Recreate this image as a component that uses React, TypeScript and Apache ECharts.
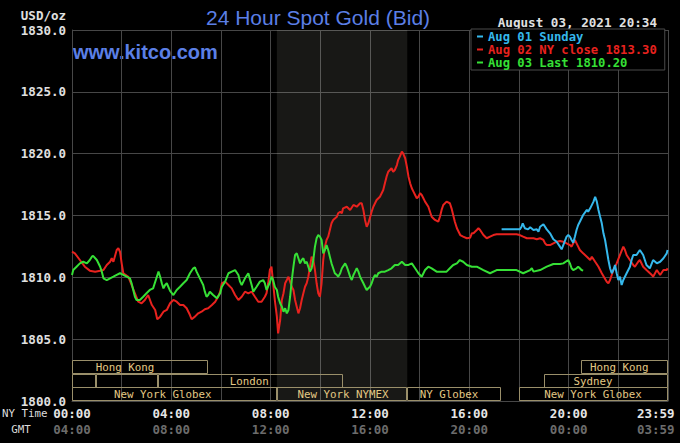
import React, { useEffect, useRef } from "react";
import * as echarts from "echarts";

// Aug 02 (red) — [minute after 00:00 NY, price]
const AUG02_RED: [number, number][] = [
  [0, 1812.07], [7, 1811.94], [19, 1811.4], [31, 1810.86], [43, 1810.54], [56, 1810.46], [68, 1810.54], [76, 1810.59],
  [84, 1811.0], [92, 1811.26], [96, 1811.54], [100, 1811.26], [108, 1812.21], [112, 1812.35], [116, 1812.07], [120, 1811.13],
  [124, 1810.33], [136, 1810.05], [144, 1809.38], [152, 1808.71], [160, 1808.03], [168, 1807.9], [176, 1808.17], [184, 1808.57],
  [193, 1807.76], [201, 1807.36], [206, 1806.61], [213, 1806.82], [221, 1807.22], [229, 1807.36], [237, 1807.9], [245, 1808.17],
  [253, 1808.03], [261, 1807.76], [269, 1807.76], [277, 1807.5], [285, 1806.95], [289, 1806.61], [297, 1806.82], [305, 1807.09],
  [313, 1807.22], [321, 1807.42], [329, 1807.5], [338, 1807.76], [346, 1808.03], [353, 1808.43], [358, 1808.84], [362, 1809.52],
  [370, 1809.65], [378, 1809.38], [386, 1809.11], [394, 1808.57], [402, 1808.17], [410, 1808.43], [418, 1808.84], [426, 1808.71],
  [434, 1808.84], [442, 1808.43], [450, 1808.03], [458, 1808.03], [466, 1808.43], [470, 1808.71], [474, 1809.52], [478, 1810.59],
  [482, 1810.86], [486, 1809.52], [490, 1808.17], [495, 1806.82], [498, 1805.47], [503, 1806.55], [507, 1808.17], [511, 1808.71],
  [515, 1809.52], [519, 1809.78], [523, 1810.05], [527, 1809.65], [531, 1809.24], [535, 1808.98], [539, 1808.17], [543, 1807.63],
  [547, 1807.09], [551, 1807.5], [555, 1808.17], [559, 1808.71], [563, 1809.24], [567, 1809.52], [571, 1810.05], [575, 1810.86],
  [579, 1811.67], [583, 1811.4], [587, 1810.59], [591, 1809.52], [595, 1808.71], [599, 1808.43], [603, 1809.52], [607, 1811.4],
  [611, 1812.48], [615, 1813.02], [619, 1813.29], [623, 1813.83], [627, 1814.37], [631, 1814.64], [640, 1814.9], [643, 1815.18],
  [648, 1815.31], [652, 1815.18], [655, 1815.58], [664, 1815.71], [672, 1815.45], [680, 1815.85], [688, 1815.71], [696, 1815.99],
  [700, 1815.99], [704, 1815.45], [708, 1814.64], [712, 1814.09], [716, 1814.37], [720, 1814.84], [724, 1815.31], [728, 1815.71],
  [736, 1816.25], [744, 1816.52], [752, 1817.06], [756, 1817.6], [760, 1818.14], [764, 1818.54], [772, 1818.82], [776, 1818.54],
  [780, 1818.68], [785, 1819.08], [788, 1819.49], [792, 1819.76], [797, 1820.16], [800, 1820.03], [805, 1819.63], [809, 1818.95],
  [813, 1818.14], [817, 1817.6], [821, 1817.2], [825, 1816.93], [829, 1816.66], [833, 1816.39], [837, 1816.52], [841, 1816.8],
  [845, 1816.66], [849, 1816.39], [853, 1816.12], [861, 1815.71], [869, 1814.9], [877, 1814.64], [885, 1814.5], [889, 1814.9],
  [893, 1815.45], [897, 1815.85], [905, 1816.12], [913, 1815.99], [917, 1815.58], [921, 1815.04], [925, 1814.5], [930, 1813.97],
  [938, 1813.42], [945, 1813.29], [954, 1813.16], [962, 1813.2], [966, 1813.56], [970, 1813.56], [978, 1813.83], [982, 1813.97],
  [986, 1813.83], [994, 1813.42], [1002, 1813.16], [1010, 1813.29], [1018, 1813.42], [1026, 1813.48], [1074, 1813.48], [1082, 1813.42],
  [1090, 1813.29], [1099, 1813.16], [1115, 1813.16], [1123, 1813.08], [1131, 1813.16], [1139, 1813.02], [1143, 1812.75], [1147, 1812.61],
  [1155, 1812.61], [1163, 1812.75], [1171, 1812.88], [1179, 1812.94], [1187, 1812.88], [1195, 1812.75], [1203, 1812.61], [1207, 1812.48],
  [1215, 1813.02], [1223, 1812.48], [1227, 1812.21], [1235, 1811.94], [1244, 1811.67], [1252, 1811.4], [1256, 1811.67], [1264, 1811.26],
  [1272, 1810.86], [1280, 1810.33], [1292, 1809.65], [1296, 1809.52], [1300, 1809.78], [1308, 1810.59], [1316, 1811.13], [1324, 1811.81],
  [1332, 1812.48], [1336, 1812.21], [1340, 1811.81], [1348, 1811.4], [1356, 1811.0], [1360, 1810.86], [1368, 1811.26], [1372, 1811.4],
  [1380, 1810.86], [1388, 1810.59], [1401, 1810.19], [1404, 1810.05], [1413, 1810.59], [1421, 1810.19], [1429, 1810.59], [1437, 1810.59],
  [1439, 1810.73],
];

// Aug 03 (green)
const AUG03_GREEN: [number, number][] = [
  [0, 1810.19], [3, 1810.59], [11, 1810.86], [19, 1811.13], [27, 1811.26], [36, 1811.13], [43, 1811.4], [48, 1811.67],
  [51, 1811.73], [60, 1811.4], [68, 1810.86], [72, 1810.46], [76, 1809.92], [84, 1809.78], [92, 1809.92], [100, 1810.05],
  [108, 1810.19], [116, 1810.33], [124, 1810.19], [132, 1810.05], [140, 1809.92], [144, 1809.52], [148, 1808.98], [152, 1808.43],
  [156, 1808.17], [164, 1808.17], [172, 1808.43], [180, 1808.71], [188, 1808.98], [196, 1809.11], [205, 1810.05], [209, 1810.46],
  [213, 1810.05], [217, 1809.52], [221, 1809.11], [225, 1809.38], [229, 1809.52], [237, 1808.91], [245, 1808.57], [253, 1808.98],
  [261, 1809.24], [269, 1809.52], [277, 1809.78], [285, 1810.33], [293, 1810.73], [297, 1810.81], [301, 1810.46], [309, 1809.92],
  [317, 1809.38], [321, 1808.84], [325, 1808.43], [329, 1808.57], [333, 1808.84], [341, 1808.57], [350, 1808.3], [358, 1808.71],
  [362, 1809.24], [370, 1809.65], [378, 1810.33], [386, 1810.46], [394, 1810.59], [402, 1810.19], [406, 1809.65], [410, 1809.38],
  [418, 1809.92], [426, 1810.33], [434, 1809.38], [438, 1808.84], [446, 1809.24], [454, 1809.65], [462, 1809.78], [466, 1809.52],
  [470, 1808.98], [478, 1809.58], [482, 1810.05], [486, 1809.78], [490, 1809.24], [495, 1808.98], [498, 1808.43], [503, 1807.9],
  [507, 1807.63], [511, 1807.22], [515, 1807.5], [519, 1807.09], [523, 1807.36], [527, 1808.43], [531, 1809.78], [535, 1810.86],
  [539, 1811.81], [543, 1811.94], [547, 1811.54], [551, 1811.13], [555, 1811.4], [559, 1811.54], [563, 1811.13], [567, 1811.26],
  [571, 1810.86], [575, 1810.46], [579, 1810.73], [583, 1811.4], [587, 1812.48], [591, 1813.16], [595, 1813.42], [599, 1813.29],
  [603, 1813.02], [607, 1811.94], [611, 1812.21], [615, 1812.61], [619, 1812.21], [623, 1811.67], [627, 1811.13], [631, 1810.73],
  [635, 1810.33], [640, 1810.19], [643, 1810.05], [648, 1810.33], [652, 1810.73], [660, 1811.13], [664, 1810.86], [668, 1810.46],
  [672, 1810.05], [676, 1809.78], [680, 1810.19], [684, 1810.46], [688, 1810.73], [692, 1810.46], [696, 1810.05], [700, 1809.78],
  [704, 1809.52], [708, 1809.24], [712, 1808.98], [716, 1809.11], [720, 1809.24], [724, 1809.52], [728, 1809.92], [732, 1810.19],
  [736, 1810.05], [740, 1810.33], [748, 1810.46], [756, 1810.46], [764, 1810.59], [772, 1810.73], [780, 1811.0], [788, 1811.0],
  [797, 1811.26], [805, 1811.0], [813, 1811.0], [821, 1811.13], [829, 1810.73], [837, 1810.33], [845, 1810.05], [853, 1810.59],
  [861, 1810.86], [869, 1810.73], [881, 1810.46], [897, 1810.46], [905, 1810.46], [913, 1810.73], [921, 1811.0], [930, 1811.13],
  [937, 1811.4], [945, 1811.26], [954, 1811.0], [966, 1810.86], [978, 1810.86], [994, 1810.59], [1010, 1810.33], [1026, 1810.59],
  [1042, 1810.59], [1074, 1810.59], [1090, 1810.33], [1107, 1810.59], [1111, 1810.73], [1115, 1810.46], [1131, 1810.59], [1147, 1810.86],
  [1163, 1811.08], [1179, 1811.08], [1187, 1811.13], [1199, 1811.4], [1203, 1811.13], [1207, 1810.73], [1211, 1810.59], [1219, 1810.73],
  [1223, 1810.86], [1227, 1810.73], [1231, 1810.59], [1235, 1810.54],
];

// Aug 01 Sunday (cyan)
const AUG01_BLUE: [number, number][] = [
  [1038, 1813.88], [1082, 1813.88], [1086, 1814.09], [1089, 1814.37], [1094, 1813.97], [1102, 1813.88], [1107, 1814.05], [1115, 1813.83],
  [1123, 1813.88], [1127, 1813.69], [1131, 1814.09], [1139, 1814.29], [1147, 1813.88], [1155, 1813.56], [1163, 1813.08], [1171, 1812.88],
  [1179, 1812.48], [1183, 1812.27], [1187, 1812.61], [1195, 1813.29], [1199, 1813.42], [1203, 1813.29], [1207, 1813.02], [1211, 1812.8],
  [1215, 1813.29], [1219, 1813.83], [1223, 1814.23], [1227, 1814.5], [1235, 1815.04], [1244, 1815.45], [1247, 1815.31], [1252, 1815.58],
  [1260, 1816.12], [1264, 1816.52], [1268, 1816.12], [1272, 1815.45], [1276, 1814.9], [1280, 1814.37], [1284, 1813.56], [1288, 1813.02],
  [1292, 1812.21], [1296, 1811.4], [1300, 1810.73], [1304, 1810.33], [1308, 1810.59], [1312, 1811.0], [1316, 1810.33], [1320, 1809.78],
  [1324, 1810.05], [1328, 1809.38], [1332, 1809.78], [1340, 1810.33], [1348, 1810.86], [1352, 1811.4], [1356, 1811.81], [1364, 1811.81],
  [1372, 1812.21], [1380, 1811.81], [1388, 1811.0], [1396, 1810.73], [1404, 1811.4], [1413, 1811.13], [1421, 1811.26], [1429, 1811.54],
  [1437, 1811.94], [1439, 1812.21],
];

const SERIES_NAMES = ["Aug 01 Sunday", "Aug 02 NY close 1813.30", "Aug 03 Last 1810.20"];

const X_TICKS_NY = ["00:00", "04:00", "08:00", "12:00", "16:00", "20:00", "23:59"];
const X_TICKS_GMT = ["04:00", "08:00", "12:00", "16:00", "20:00", "00:00", "03:59"];

// Market sessions (minutes, NY time); row 0 = bottom
const SESSION_NAMES = ["New York Globex", "New York NYMEX", "NY Globex", "New York Globex", "", "", "London", "Sydney", "Hong Kong", "Hong Kong"];
const SESSION_START = [0, 495, 810, 1080, 0, 57, 207, 1140, 0, 1230];
const SESSION_END = [495, 810, 1038, 1440, 57, 207, 655, 1440, 329, 1440];
const SESSION_ROW = [0, 0, 0, 0, 1, 1, 1, 1, 2, 2];
const SESSION_LABEL_AT = [219, 655, 911, 1259, 0, 0, 428, 1259, 128, 1322];

const NYMEX_SHADE = [495, 810];

const RED = "#e8221e";
const GREEN = "#36e036";
const BLUE = "#35b8ec";
const MONO = '"DejaVu Sans Mono", monospace';
const SANS = '"Liberation Sans", Arial, sans-serif';

export default function App() {
  const ref = useRef<HTMLDivElement>(null);
  useEffect(() => {
    document.body.style.margin = "0";
    document.body.style.background = "#000";
    const chart = echarts.init(ref.current!, null, { renderer: "svg" });
    const gridColor = "#474747";
    const rowH = 13.6;
    const option: any = {
      animation: false,
      backgroundColor: "#000",
      grid: { left: 72, top: 30, width: 596, height: 371, show: false, containLabel: false, outerBoundsMode: "none" },
      xAxis: {
        type: "value",
        min: 0,
        max: 1440,
        interval: 120,
        axisLine: { show: true, lineStyle: { color: gridColor } },
        axisTick: { show: false },
        splitLine: { show: true, lineStyle: { color: gridColor, width: 1 } },
        axisLabel: {
          margin: 4,
          showMaxLabel: true,
          showMinLabel: true,
          formatter: (v: number) => {
            if (v % 240 !== 0) return "";
            const i = v / 240;
            if (i === 6) return `{c|${X_TICKS_NY[i]}}\n{d|${X_TICKS_GMT[i]}}`;
            return `{a|${X_TICKS_NY[i]}}\n{b|${X_TICKS_GMT[i]}}`;
          },
          rich: {
            a: { fontFamily: MONO, fontSize: 12.5, fontWeight: "bold", color: "#e6e6e6", lineHeight: 16 },
            b: { fontFamily: MONO, fontSize: 12.5, fontWeight: "bold", color: "#6c6c6c", lineHeight: 16 },
            c: { fontFamily: MONO, fontSize: 12.5, fontWeight: "bold", color: "#e6e6e6", lineHeight: 16, width: 62, align: "left" },
            d: { fontFamily: MONO, fontSize: 12.5, fontWeight: "bold", color: "#6c6c6c", lineHeight: 16, width: 62, align: "left" },
          },
        },
      },
      yAxis: {
        type: "value",
        min: 1800,
        max: 1830,
        interval: 5,
        axisLine: { show: true, lineStyle: { color: gridColor } },
        axisTick: { show: false },
        splitLine: { show: true, lineStyle: { color: gridColor, width: 1 } },
        axisLabel: {
          margin: 6,
          fontFamily: MONO,
          fontSize: 12.5,
          fontWeight: "bold",
          color: "#e0e0e0",
          formatter: (v: number) => v.toFixed(1),
        },
      },
      legend: {
        show: true,
        orient: "vertical",
        left: 471,
        top: 29,
        padding: [1, 8, 1, 6],
        itemGap: 0,
        itemWidth: 6,
        itemHeight: 2,
        icon: "rect",
        backgroundColor: "#000",
        borderColor: "#4a4a4a",
        borderWidth: 1,
        selectedMode: false,
        textStyle: { fontFamily: MONO, fontSize: 12.2, fontWeight: "bold", lineHeight: 13 },
        data: [
          { name: SERIES_NAMES[0], textStyle: { color: BLUE } },
          { name: SERIES_NAMES[1], textStyle: { color: RED } },
          { name: SERIES_NAMES[2], textStyle: { color: GREEN } },
        ],
      },
      graphic: [
        {
          type: "text", x: 318, y: 17,
          style: { text: "24 Hour Spot Gold (Bid)", fill: "#5b7fe6", font: `21px ${SANS}`, textAlign: "center", textVerticalAlign: "middle", align: "center", verticalAlign: "middle" },
        },
        {
          type: "text", x: 73, y: 52,
          style: { text: "www.kitco.com", fill: "#5b7fe6", font: `bold 20px ${SANS}`, textAlign: "left", textVerticalAlign: "middle", align: "left", verticalAlign: "middle" },
        },
        {
          type: "text", x: 66, y: 15,
          style: { text: "USD/oz", fill: "#e0e0e0", font: `bold 12.5px ${MONO}`, textAlign: "right", textVerticalAlign: "middle", align: "right", verticalAlign: "middle" },
        },
        {
          type: "text", x: 657, y: 22,
          style: { text: "August 03, 2021 20:34", fill: "#e0e0e0", font: `bold 12.6px ${MONO}`, textAlign: "right", textVerticalAlign: "middle", align: "right", verticalAlign: "middle" },
        },
        {
          type: "text", x: 47.5, y: 413,
          style: { text: "NY Time", fill: "#dcdcdc", font: `10.8px ${MONO}`, textAlign: "right", textVerticalAlign: "middle", align: "right", verticalAlign: "middle" },
        },
        {
          type: "text", x: 21, y: 429,
          style: { text: "GMT", fill: "#dcdcdc", font: `10.8px ${MONO}`, textAlign: "center", textVerticalAlign: "middle", align: "center", verticalAlign: "middle" },
        },
      ],
      series: [
        {
          type: "custom",
          name: "sessions",
          silent: true,
          z: 1,
          encode: { x: [0, 1], y: 2 },
          data: SESSION_START.map((s, i) => [s, SESSION_END[i], SESSION_ROW[i]]),
          markArea: {
            silent: true,
            itemStyle: { color: "rgba(255,255,235,0.095)" },
            data: [[{ xAxis: NYMEX_SHADE[0] }, { xAxis: NYMEX_SHADE[1] }]],
          },
          renderItem: (params: any, api: any) => {
            const i = params.dataIndex;
            const a = api.coord([api.value(0), 1800]);
            const b = api.coord([api.value(1), 1800]);
            const row = api.value(2);
            const bottom = a[1];
            const y0 = bottom - (row + 1) * rowH;
            const children: any[] = [
              {
                type: "rect",
                shape: { x: Math.round(a[0]) + 0.5, y: Math.round(y0) + 0.5, width: Math.round(b[0] - a[0]) - 1, height: Math.round(rowH) - 1 },
                style: { fill: "none", stroke: "#9a8f6a", lineWidth: 1 },
              },
            ];
            if (SESSION_NAMES[i]) {
              const lx = api.coord([SESSION_LABEL_AT[i], 1800])[0];
              children.push({
                type: "text",
                x: lx,
                y: y0 + rowH / 2 + 0.5,
                style: {
                  text: SESSION_NAMES[i], fill: "#e3c884", font: `10.8px ${MONO}`,
                  textAlign: "center", textVerticalAlign: "middle", align: "center", verticalAlign: "middle",
                },
              });
            }
            return { type: "group", children };
          },
        },
        {
          type: "line", name: SERIES_NAMES[1], data: AUG02_RED, symbol: "none", showSymbol: false, z: 3,
          lineStyle: { color: RED, width: 2 }, itemStyle: { color: RED },
        },
        {
          type: "line", name: SERIES_NAMES[2], data: AUG03_GREEN, symbol: "none", showSymbol: false, z: 3,
          lineStyle: { color: GREEN, width: 2 }, itemStyle: { color: GREEN },
        },
        {
          type: "line", name: SERIES_NAMES[0], data: AUG01_BLUE, symbol: "none", showSymbol: false, z: 3,
          lineStyle: { color: BLUE, width: 2 }, itemStyle: { color: BLUE },
        },
      ],
    };
    chart.setOption(option);
    return () => chart.dispose();
  }, []);
  return <div ref={ref} style={{ width: 680, height: 443, background: "#000" }} />;
}
